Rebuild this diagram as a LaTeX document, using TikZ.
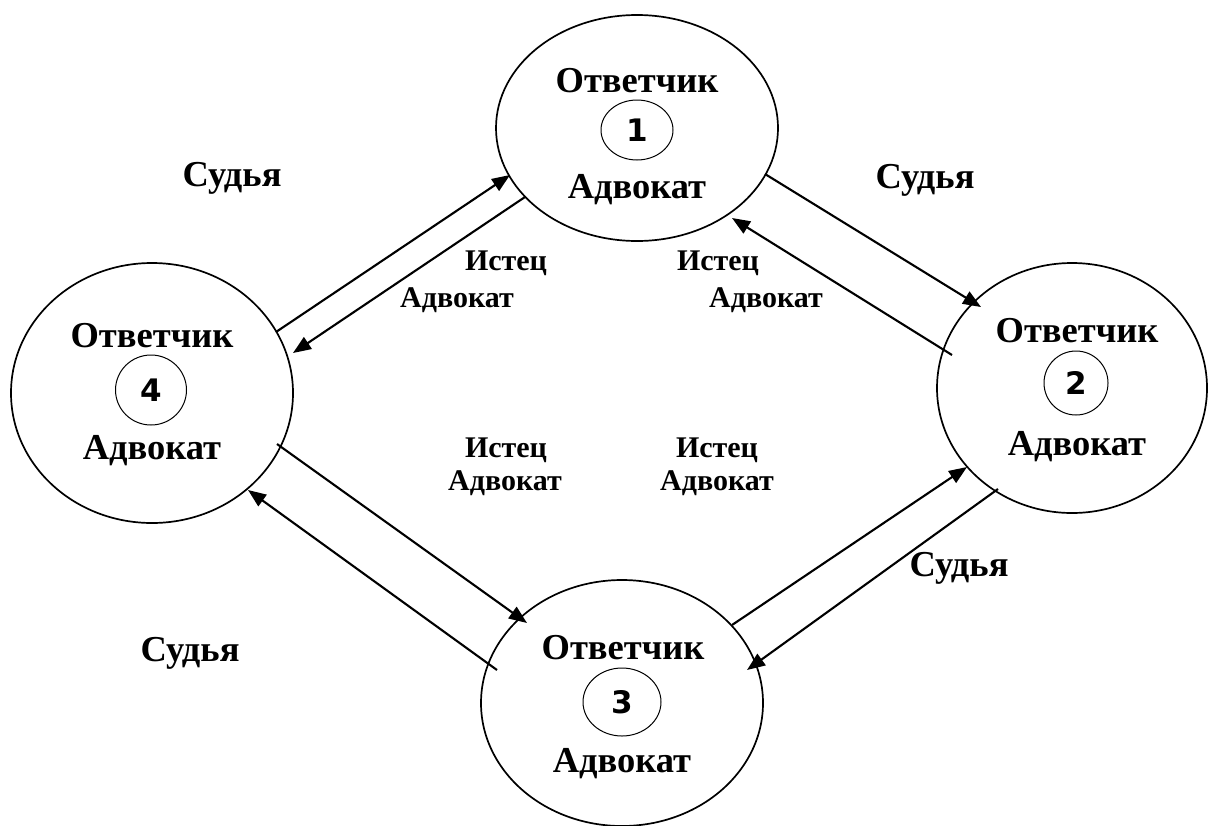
\documentclass[tikz,border=0pt]{standalone}
\usepackage{fontspec}
\setmainfont{Liberation Serif}
\newfontfamily\numfont{DejaVu Sans}[BoldFont={DejaVu Sans Bold}]
\usetikzlibrary{shapes.geometric,arrows.meta,calc}
\begin{document}
\begin{tikzpicture}[x=1pt,y=-1pt,
  party/.style={ellipse,draw,line width=1.7pt,inner sep=0pt},
  numc/.style={ellipse,draw,line width=1pt,inner sep=0pt,font=\numfont\bfseries\fontsize{31}{34}\selectfont},
  big/.style={font=\bfseries\fontsize{36.5}{40}\selectfont,anchor=base,inner sep=0pt},
  small/.style={font=\bfseries\fontsize{30}{34}\selectfont,anchor=base,inner sep=0pt},
  link/.style={line width=2.1pt,-{Triangle[length=18pt,width=14pt]}}]
\fill[white] (0,0) rectangle (1209,825);
\useasboundingbox (0,0) rectangle (1209,825);
% parties
\node[party,minimum width=282pt,minimum height=226pt] (e1) at (637,128) {};
\node[party,minimum width=270pt,minimum height=250pt] (e2) at (1072,388) {};
\node[party,minimum width=282pt,minimum height=246pt] (e3) at (622,703) {};
\node[party,minimum width=282pt,minimum height=260pt] (e4) at (152,393) {};
% numbers
\node[numc,minimum width=72pt,minimum height=60pt] (n1) at (637,130) {1};
\node[numc,minimum width=64pt,minimum height=64pt] (n2) at (1076,383) {2};
\node[numc,minimum width=78pt,minimum height=68pt] (n3) at (622,702) {3};
\node[numc,minimum width=71pt,minimum height=70pt] (n4) at (151,390) {4};
% texts in parties
\node[big] (o1) at (637,92) {Ответчик};
\node[big] (a1) at (637,198) {Адвокат};
\node[big] (o2) at (1077,342) {Ответчик};
\node[big] (a2) at (1077,455) {Адвокат};
\node[big] (o3) at (623,659) {Ответчик};
\node[big] (a3) at (622,772) {Адвокат};
\node[big] (o4) at (152,347) {Ответчик};
\node[big] (a4) at (152,459) {Адвокат};
% judges
\node[big] (j1) at (232,186) {Судья};
\node[big] (j2) at (925,188) {Судья};
\node[big] (j3) at (190,661) {Судья};
\node[big] (j4) at (959,576) {Судья};
% plaintiffs
\node[small] (i1) at (506,270) {Истец};
\node[small] (v1) at (457,307) {Адвокат};
\node[small] (i2) at (718,270) {Истец};
\node[small] (v2) at (766,307) {Адвокат};
\node[small] (i3) at (506,457) {Истец};
\node[small] (v3) at (505,490) {Адвокат};
\node[small] (i4) at (717,457) {Истец};
\node[small] (v4) at (717,490) {Адвокат};
% connectors
\draw[link] ($(e4.center)+(124,-61)$) -- ($(e1.center)+(-127,47)$);
\draw[link] ($(e1.center)+(-112,69)$) -- ($(e4.center)+(141,-40)$);
\draw[link] ($(e1.center)+(128,46)$) -- ($(e2.center)+(-91,-81)$);
\draw[link] ($(e2.center)+(-120,-33)$) -- ($(e1.center)+(95,90)$);
\draw[link] ($(e3.center)+(110,-78)$) -- ($(e2.center)+(-105,79)$);
\draw[link] ($(e2.center)+(-74,101)$) -- ($(e3.center)+(125,-33)$);
\draw[link] ($(e4.center)+(125,51)$) -- ($(e3.center)+(-95,-80)$);
\draw[link] ($(e3.center)+(-125,-33)$) -- ($(e4.center)+(96,97)$);
\end{tikzpicture}
\end{document}
